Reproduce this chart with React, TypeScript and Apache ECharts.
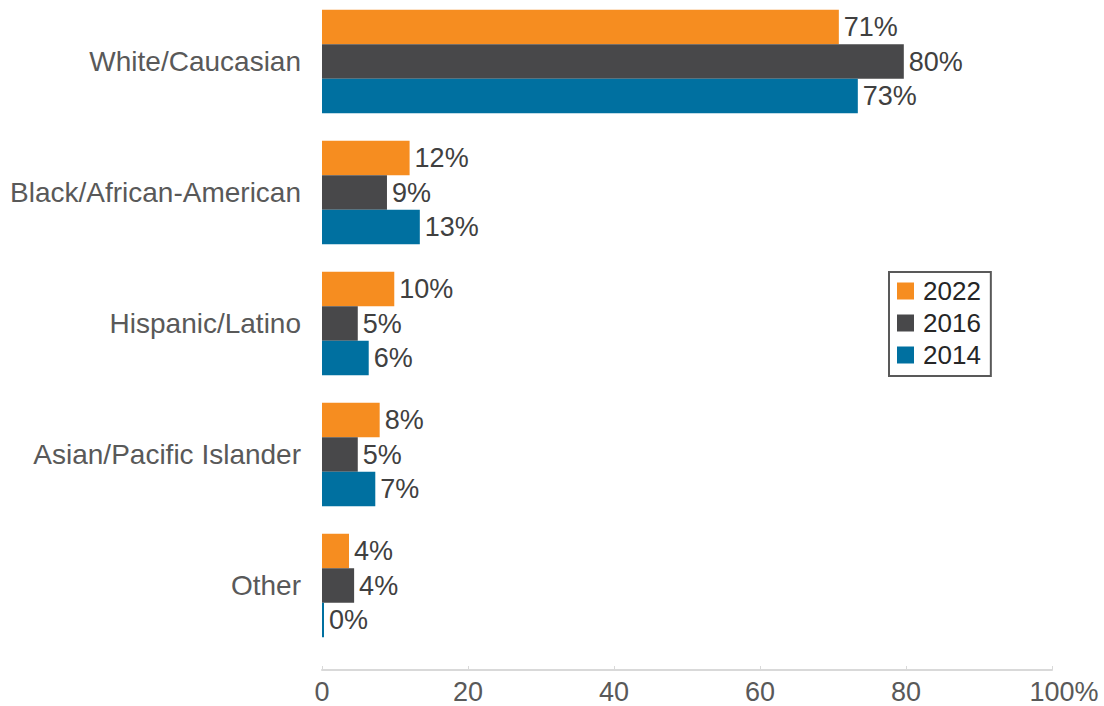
import React, { useEffect, useRef } from "react";
import * as echarts from "echarts";

const categories = [
  "White/Caucasian",
  "Black/African-American",
  "Hispanic/Latino",
  "Asian/Pacific Islander",
  "Other",
];
const seriesNames = ["2022", "2016", "2014"];
const values2022 = [70.8, 12.0, 9.9, 7.9, 3.7];
const values2016 = [79.7, 8.9, 4.9, 4.9, 4.4];
const values2014 = [73.4, 13.4, 6.4, 7.3, 0];
const colors = ["#F68D20", "#48484A", "#0070A0"];
const xTicks = [0, 20, 40, 60, 80, 100];

export default function App() {
  const ref = useRef<HTMLDivElement>(null);
  useEffect(() => {
    if (!ref.current) return;
    const chart = echarts.init(ref.current, undefined, { renderer: "svg" });
    const font = "Liberation Sans, Arial, sans-serif";
    const data = [values2022, values2016, values2014];
    chart.setOption({
      animation: false,
      textStyle: { fontFamily: font },
      grid: { left: 322, right: 52, top: 0, height: 655, containLabel: false },
      legend: {
        orient: "vertical",
        left: 889,
        top: 276,
        data: seriesNames,
        borderColor: "#595959",
        borderWidth: 2,
        padding: [6, 10, 8, 8],
        itemWidth: 17,
        itemHeight: 17,
        itemGap: 6,
        icon: "rect",
        textStyle: { fontSize: 26, color: "#262626", fontFamily: font, padding: [0, 0, 0, 4] },
      },
      xAxis: {
        type: "value",
        min: xTicks[0],
        max: xTicks[xTicks.length - 1],
        interval: 20,
        offset: 19,
        splitLine: { show: false },
        axisLine: { show: true, lineStyle: { color: "#D9D9D9", width: 2 } },
        axisTick: { show: true, inside: true, length: 4, lineStyle: { color: "#D9D9D9", width: 1 } },
        axisLabel: {
          fontSize: 27,
          color: "#595959",
          margin: 8,
          fontFamily: font,
          formatter: (v: number) => (v === 100 ? "{h|100%}" : String(v)),
          rich: {
            h: { fontSize: 27, color: "#595959", fontFamily: font, padding: [0, 0, 0, 24] },
          },
        },
      },
      yAxis: {
        type: "category",
        data: categories,
        inverse: true,
        axisLine: { show: false },
        axisTick: { show: false },
        axisLabel: { fontSize: 28, color: "#595959", margin: 21, fontFamily: font },
      },
      series: seriesNames.map((name, i) => ({
        name,
        type: "bar",
        data: data[i],
        barWidth: 34.5,
        barGap: "0%",
        barMinHeight: i === 2 ? 2 : 0,
        itemStyle: { color: colors[i] },
        label: {
          show: true,
          position: "right",
          distance: 5,
          fontSize: 27,
          color: "#404040",
          fontFamily: font,
          formatter: (p: any) => Math.round(p.value) + "%",
        },
      })),
    });
    return () => chart.dispose();
  }, []);
  return (
    <div
      ref={ref}
      style={{ width: 1104, height: 710, position: "absolute", left: 0, top: -4 }}
    />
  );
}
